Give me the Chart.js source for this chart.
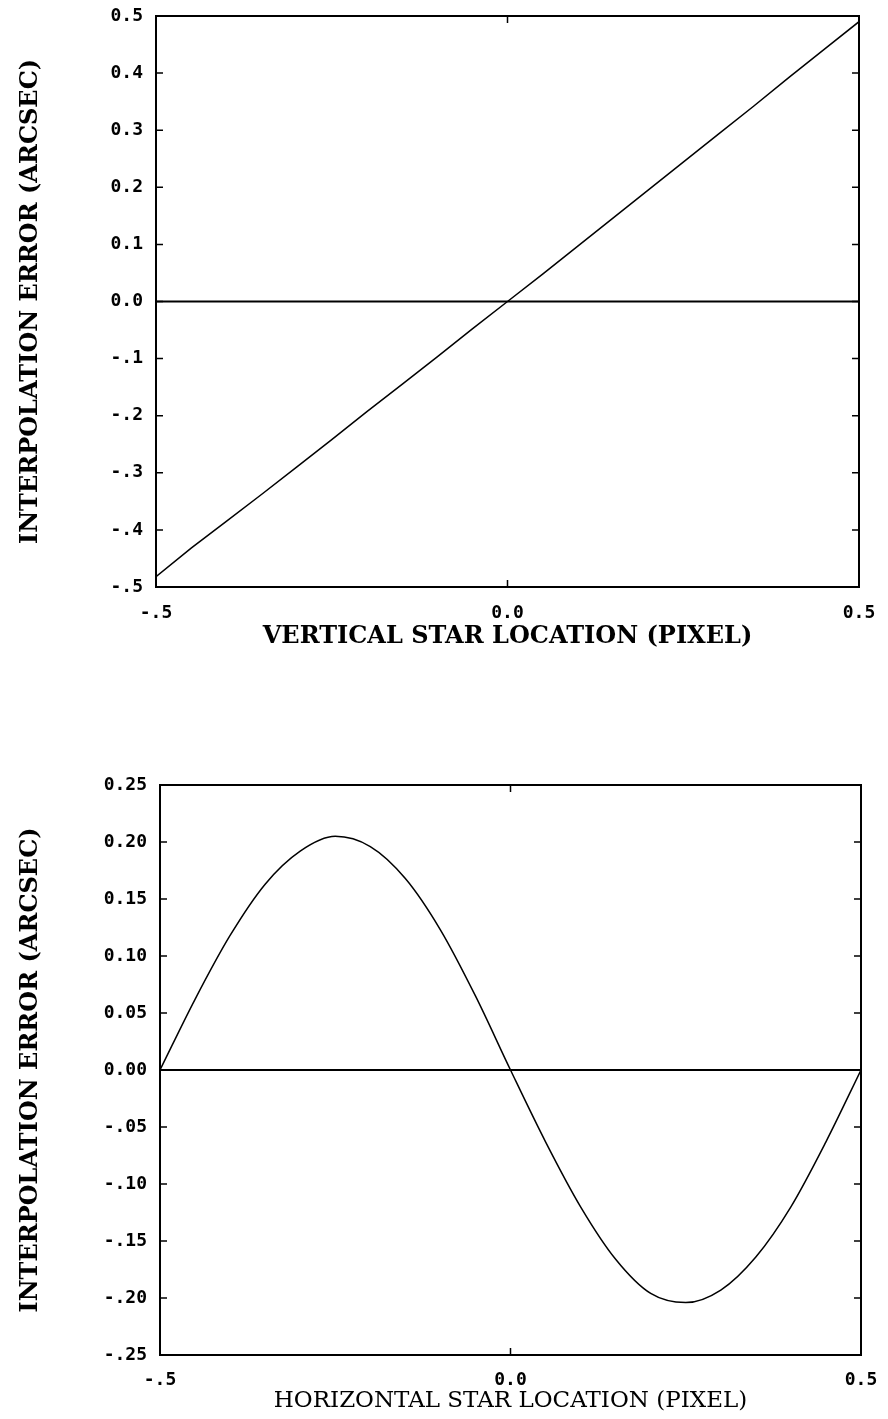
<!DOCTYPE html>
<html>
<head>
<meta charset="utf-8">
<script src="https://cdn.jsdelivr.net/npm/chart.js@4.4.1/dist/chart.umd.min.js"></script>
<style>
    html, body { margin: 0; padding: 0; background: #fff; }
    body { width: 888px; height: 1419px; position: relative; overflow: hidden; }
    .box { position: absolute; left: 0; width: 888px; }
    #topBox { top: 0; height: 652px; }
    #bottomBox { top: 769px; height: 650px; }
</style>
</head>
<body>
<div class="box" id="topBox"><canvas id="verticalChart"></canvas></div>
<div class="box" id="bottomBox"><canvas id="horizontalChart"></canvas></div>
<script>
// star location (pixel), shared by both panels
const starLocation = [-0.5, -0.45, -0.4, -0.35, -0.3, -0.25, -0.2, -0.15, -0.1, -0.05, 0,
    0.05, 0.1, 0.15, 0.2, 0.25, 0.3, 0.35, 0.4, 0.45, 0.5];
// interpolation error (arcsec)
const verticalError = [-0.482, -0.432, -0.385, -0.338, -0.290, -0.242, -0.193, -0.145, -0.097, -0.048, 0.0,
    0.048, 0.097, 0.146, 0.195, 0.244, 0.293, 0.342, 0.392, 0.441, 0.490];
const horizontalError = [0.0, 0.062, 0.118, 0.163, 0.192, 0.205, 0.196, 0.168, 0.123, 0.065, 0.0,
    -0.063, -0.120, -0.166, -0.196, -0.204, -0.193, -0.164, -0.120, -0.063, 0.0];
const zeroLineX = [-0.5, 0.5];
const zeroLineY = [0, 0];

const xTickValues = [-0.5, 0, 0.5];
const xTickLabels = ['-.5', '0.0', '0.5'];
const yTickValuesTop = [-0.5, -0.4, -0.3, -0.2, -0.1, 0, 0.1, 0.2, 0.3, 0.4, 0.5];
const yTickLabelsTop = ['-.5', '-.4', '-.3', '-.2', '-.1', '0.0', '0.1', '0.2', '0.3', '0.4', '0.5'];
const yTickValuesBottom = [-0.25, -0.2, -0.15, -0.1, -0.05, 0, 0.05, 0.1, 0.15, 0.2, 0.25];
const yTickLabelsBottom = ['-.25', '-.20', '-.15', '-.10', '-.05', '0.00', '0.05', '0.10', '0.15', '0.20', '0.25'];

const tickFont = { family: '"DejaVu Sans Mono", monospace', size: 18, weight: 'bold' };

// box round the plot, with short ticks pointing inwards
const frameTicks = {
    id: 'frameTicks',
    afterDatasetsDraw(chart) {
        const { ctx, chartArea: a, scales: { x, y } } = chart;
        ctx.save();
        ctx.strokeStyle = '#000';
        ctx.lineWidth = 2;
        ctx.strokeRect(a.left, a.top, a.right - a.left, a.bottom - a.top);
        ctx.lineWidth = 1.5;
        ctx.beginPath();
        y.ticks.forEach(t => {
            const py = y.getPixelForValue(t.value);
            ctx.moveTo(a.left, py); ctx.lineTo(a.left + 7, py);
            ctx.moveTo(a.right, py); ctx.lineTo(a.right - 7, py);
        });
        x.ticks.forEach(t => {
            const px = x.getPixelForValue(t.value);
            ctx.moveTo(px, a.bottom); ctx.lineTo(px, a.bottom - 7);
            ctx.moveTo(px, a.top); ctx.lineTo(px, a.top + 7);
        });
        ctx.stroke();
        ctx.restore();
    }
};

function makeChart(id, values, yVals, yLabels, xTitle, cfg) {
    const ctx = document.getElementById(id).getContext('2d');
    return new Chart(ctx, {
        type: 'line',
        data: {
            datasets: [
                {
                    data: starLocation.map((x, i) => ({ x: x, y: values[i] })),
                    borderColor: '#000',
                    borderWidth: 1.5,
                    pointRadius: 0,
                    cubicInterpolationMode: cfg.smooth ? 'monotone' : 'default',
                    tension: 0
                },
                {
                    data: zeroLineX.map((x, i) => ({ x: x, y: zeroLineY[i] })),
                    borderColor: '#000',
                    borderWidth: 1.8,
                    pointRadius: 0
                }
            ]
        },
        options: {
            responsive: true,
            maintainAspectRatio: false,
            animation: false,
            layout: { padding: { left: 0, top: 16, right: cfg.right, bottom: 0 } },
            plugins: { legend: { display: false }, tooltip: { enabled: false } },
            scales: {
                x: {
                    type: 'linear',
                    min: -0.5,
                    max: 0.5,
                    grid: { display: false },
                    border: { display: false },
                    afterBuildTicks: s => { s.ticks = xTickValues.map(v => ({ value: v })); },
                    afterFit: s => { s.height = cfg.xHeight; },
                    ticks: {
                        color: '#000',
                        font: tickFont,
                        padding: cfg.xPad,
                        maxRotation: 0,
                        callback: (v, i) => xTickLabels[i]
                    },
                    title: {
                        display: true,
                        text: xTitle,
                        color: '#000',
                        font: cfg.xTitleFont,
                        padding: { top: 0, bottom: cfg.xTitlePad }
                    }
                },
                y: {
                    type: 'linear',
                    min: yVals[0],
                    max: yVals[yVals.length - 1],
                    grid: { display: false },
                    border: { display: false },
                    afterBuildTicks: s => { s.ticks = yVals.map(v => ({ value: v })); },
                    afterFit: s => { s.width = cfg.left; },
                    ticks: {
                        color: '#000',
                        font: tickFont,
                        padding: 5,
                        callback: (v, i) => yLabels[i]
                    },
                    title: {
                        display: true,
                        text: 'INTERPOLATION ERROR (ARCSEC)',
                        color: '#000',
                        font: { family: '"DejaVu Serif", serif', size: 24, weight: 'bold' },
                        padding: { top: 16, bottom: 0 }
                    }
                }
            }
        },
        plugins: [frameTicks]
    });
}

makeChart('verticalChart', verticalError, yTickValuesTop, yTickLabelsTop,
    'VERTICAL STAR LOCATION (PIXEL)', {
        smooth: false, left: 156, right: 29, xHeight: 65, xPad: 8, xTitlePad: 1,
        xTitleFont: { family: '"DejaVu Serif", serif', size: 24, weight: 'bold' }
    });

makeChart('horizontalChart', horizontalError, yTickValuesBottom, yTickLabelsBottom,
    'HORIZONTAL STAR LOCATION (PIXEL)', {
        smooth: true, left: 160, right: 27, xHeight: 64, xPad: 7, xTitlePad: 4,
        xTitleFont: { family: '"DejaVu Serif", serif', size: 23, weight: 'normal' }
    });
</script>
</body>
</html>
